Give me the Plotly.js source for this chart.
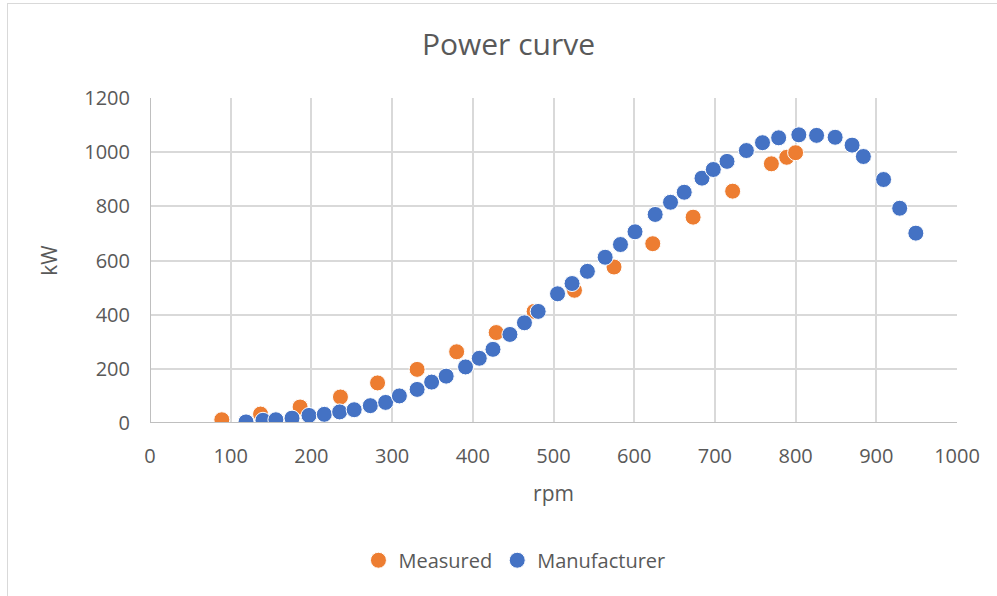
<!DOCTYPE html>
<html>
<head>
<meta charset="utf-8">
<script src="https://cdn.plot.ly/plotly-3.0.1.min.js"></script>
<style>
  html, body { margin: 0; padding: 0; background: #fff; }
  #frame { position: absolute; left: 7px; top: 3px; width: 1000px; height: 600px;
           border-left: 1.5px solid #D9D9D9; border-top: 1.5px solid #D9D9D9; }
  #chart { position: absolute; left: 0; top: 0; width: 997px; height: 596px; }
</style>
</head>
<body>
<div id="frame"></div>
<div id="chart"></div>
<script>
// Measured series
const measuredRpm = [89, 137, 186, 236, 282, 331, 380, 429, 476, 526, 575, 623, 673, 722, 770, 789, 800];
const measuredKw  = [12, 33, 59, 96, 148, 198, 263, 334, 412, 490, 576, 662, 760, 856, 957, 981, 998];

// Manufacturer series
const manufRpm = [119, 140, 156, 176, 197, 216, 235, 253, 273, 292, 309, 331, 349, 367, 391, 408, 425,
                  446, 464, 481, 505, 523, 542, 564, 583, 601, 626, 645, 662, 684, 698, 715, 739, 759,
                  779, 804, 826, 849, 870, 884, 909, 929, 949];
const manufKw  = [4, 10, 12, 18, 28, 32, 41, 49, 64, 76, 100, 124, 151, 173, 207, 239, 272,
                  327, 370, 412, 477, 515, 560, 612, 659, 706, 770, 815, 852, 904, 936, 966, 1006, 1035,
                  1053, 1064, 1062, 1055, 1026, 984, 899, 793, 701];

const xTicks = [0, 100, 200, 300, 400, 500, 600, 700, 800, 900, 1000];
const yTicks = [0, 200, 400, 600, 800, 1000, 1200];

const FONT = "'Open Sans', 'Liberation Sans', sans-serif";
const GREY = '#595959';

const traces = [
  { x: measuredRpm, y: measuredKw, name: 'Measured', type: 'scatter', mode: 'markers',
    marker: { color: '#ED7D31', size: 16, line: { color: '#ffffff', width: 1 } } },
  { x: manufRpm, y: manufKw, name: 'Manufacturer', type: 'scatter', mode: 'markers',
    marker: { color: '#4472C4', size: 16, line: { color: '#ffffff', width: 1 } } }
];

const layout = {
  width: 997, height: 596,
  paper_bgcolor: 'rgba(0,0,0,0)', plot_bgcolor: 'rgba(0,0,0,0)',
  margin: { l: 150, r: 40, t: 98, b: 173 },
  font: { family: FONT, color: GREY },
  title: { text: 'Power curve', font: { family: FONT, size: 30, color: GREY },
           xref: 'container', x: 0.51, xanchor: 'center', yref: 'container', y: 0.926, yanchor: 'middle' },
  xaxis: {
    range: [0, 1000], tickvals: xTicks, ticktext: xTicks.map(String),
    showgrid: true, gridcolor: '#D9D9D9', gridwidth: 2,
    zeroline: false, showline: false, ticks: '',
    ticklabelstandoff: 19,
    tickfont: { family: FONT, size: 20, color: GREY },
    title: { text: 'rpm', font: { family: FONT, size: 21, color: GREY }, standoff: 18 }
  },
  yaxis: {
    range: [0, 1200], tickvals: yTicks, ticktext: yTicks.map(String),
    showgrid: true, gridcolor: '#D9D9D9', gridwidth: 2,
    zeroline: false, showline: false, ticks: '',
    ticklabelstandoff: 19,
    tickfont: { family: FONT, size: 20, color: GREY },
    title: { text: 'kW', font: { family: FONT, size: 21, color: GREY }, standoff: 20 }
  },
  shapes: [
    { type: 'line', xref: 'x', yref: 'y', x0: 0, x1: 1000, y0: 0, y1: 0, line: { color: '#BFBFBF', width: 2 } },
    { type: 'line', xref: 'x', yref: 'y', x0: 0, x1: 0, y0: 0, y1: 1200, line: { color: '#BFBFBF', width: 2 } }
  ],
  showlegend: true,
  legend: { orientation: 'h', xref: 'container', yref: 'container', x: 0.516, xanchor: 'center',
            y: 0.06, yanchor: 'middle', font: { family: FONT, size: 20, color: GREY },
            itemwidth: 30, tracegroupgap: 0 }
};

Plotly.newPlot('chart', traces, layout, { displayModeBar: false, staticPlot: true });
</script>
</body>
</html>
